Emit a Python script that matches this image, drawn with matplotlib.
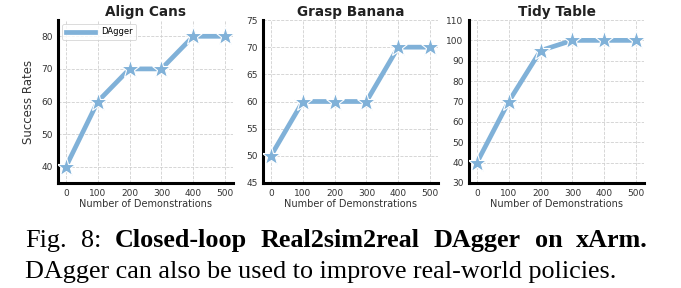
import numpy as np
import matplotlib
matplotlib.use("Agg")
import matplotlib.pyplot as plt

# data
demos = [0, 100, 200, 300, 400, 500]
titles = ["Align Cans", "Grasp Banana", "Tidy Table"]
align_cans = [40, 60, 70, 70, 80, 80]
grasp_banana = [50, 60, 60, 60, 70, 70]
tidy_table = [40, 70, 95, 100, 100, 100]
series = [align_cans, grasp_banana, tidy_table]
ylims = [(35, 85), (45, 75), (30, 110)]
yticks = [np.arange(40, 81, 10), np.arange(45, 76, 5), np.arange(30, 111, 10)]

line_color = "#80b1d8"
W, H = 681, 288

fig = plt.figure(figsize=(W / 100, H / 100), dpi=100)
lefts = [58, 263, 469]

for i in range(3):
    ax = fig.add_axes([lefts[i] / W, 1 - 183 / H, 175 / W, 163 / H])
    ax.plot(demos, series[i], color=line_color, lw=3.4, label="DAgger", zorder=3)
    ax.plot(demos, series[i], ls="none", marker="*", ms=14, mfc=line_color,
            mec="white", mew=0.8, zorder=4)
    ax.set_xlim(-25, 525)
    ax.set_ylim(*ylims[i])
    ax.set_xticks(demos)
    ax.set_yticks(yticks[i])
    ax.grid(True, ls="--", lw=0.6, color="#d0d0d0")
    ax.set_axisbelow(True)
    for s in ["top", "right"]:
        ax.spines[s].set_visible(False)
    for s in ["left", "bottom"]:
        ax.spines[s].set_linewidth(2.2)
        ax.spines[s].set_color("black")
    ax.tick_params(axis="both", length=0, labelsize=6.5, colors="#333333", pad=4)
    ax.set_title(titles[i], fontsize=9.8, fontweight="bold", color="#222222", pad=3)
    ax.set_xlabel("Number of Demonstrations", fontsize=7, color="#333333", labelpad=1)
    if i == 0:
        ax.set_ylabel("Success Rates", fontsize=8.5, color="#333333", labelpad=4)
        leg = ax.legend(loc="upper left", fontsize=6, handlelength=3.5,
                        borderpad=0.4, frameon=True, fancybox=True)
        leg.get_frame().set_edgecolor("#cccccc")
        leg.get_frame().set_linewidth(0.6)

# caption
serif = "Liberation Serif"
line1 = [("Fig.", "normal"), ("8:", "normal"), ("Closed-loop", "bold"),
         ("Real2sim2real", "bold"), ("DAgger", "bold"), ("on", "bold"), ("xArm.", "bold")]
line2 = "DAgger can also be used to improve real-world policies."
fs = 18.8
x0, x1 = 25, 648
renderer = fig.canvas.get_renderer()

words = []
total = 0
for w, wt in line1:
    t = fig.text(0, 0, w, fontsize=fs, fontweight=wt, family=serif, va="baseline")
    wpx = t.get_window_extent(renderer).width
    words.append((t, wpx))
    total += wpx
gap = (x1 - x0 - total) / (len(words) - 1)
x = x0
for t, wpx in words:
    t.set_position((x / W, 1 - 247 / H))
    x += wpx + gap

fig.text(x0 / W, 1 - 278 / H, line2, fontsize=fs, family=serif, va="baseline")

fig.savefig("out.png", dpi=100)
